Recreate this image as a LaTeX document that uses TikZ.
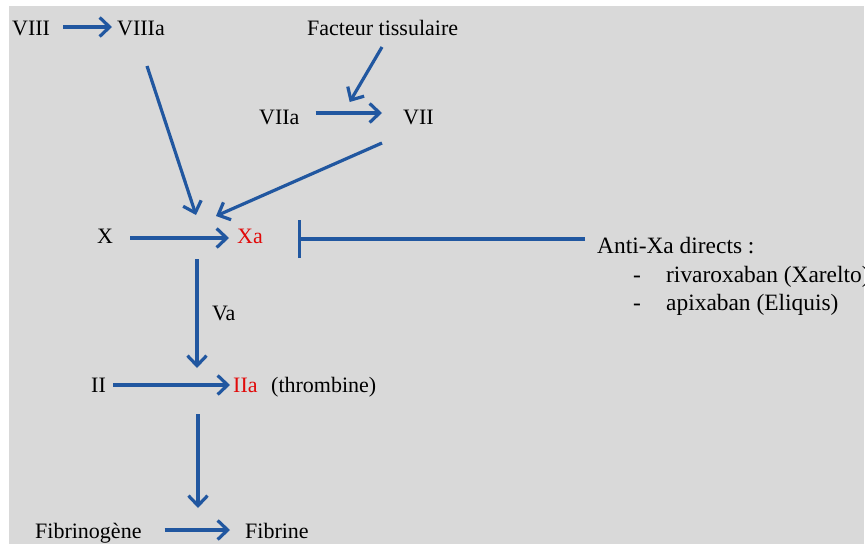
\documentclass[tikz,border=0pt]{standalone}
\usepackage{fontspec}
\setmainfont{Liberation Serif}
\usetikzlibrary{arrows.meta,calc}
\definecolor{flowblue}{RGB}{33,87,160}
\definecolor{activered}{RGB}{225,10,10}
\definecolor{panelgray}{RGB}{217,217,217}
\begin{document}
\begin{tikzpicture}[x=1pt,y=-1pt,
  font=\fontsize{22}{26}\selectfont,
  lbl/.style={anchor=base west, inner sep=0pt},
  active/.style={lbl, text=activered},
  drug/.style={lbl, font=\fontsize{23.4}{27}\selectfont},
  arr/.style={draw=flowblue, line width=3.2pt, -{Straight Barb[length=10pt,width=19pt]}},
  inhib/.style={draw=flowblue, line width=3.2pt, -{Bar[width=38pt]}}]
\useasboundingbox (0,0) rectangle (865,544);
\fill[panelgray] (9,6) rectangle (864,544);
\clip (0,0) rectangle (865,544);

% factors
\node[lbl] (VIII)  at (12,35)  {VIII};
\node[lbl] (VIIIa) at (117,35) {VIIIa};
\node[lbl] (FT)    at (307,35) {Facteur tissulaire};
\node[lbl] (VIIa)  at (259,124) {VIIa};
\node[lbl] (VII)   at (403,124) {VII};
\node[lbl] (X)     at (97,243)  {X};
\node[active] (Xa) at (237,243) {Xa};
\node[lbl] (Va)    at (212,320) {Va};
\node[lbl] (II)    at (91,392)  {II};
\node[active] (IIa) at (233,392) {IIa};
\node[lbl] (thr)   at (271,392) {(thrombine)};
\node[lbl] (fgn)   at (35,538)  {Fibrinogène};
\node[lbl] (fib)   at (245,538) {Fibrine};

% direct anti-Xa drugs
\node[drug] (anti)  at (597,253) {Anti-Xa directs :};
\node[drug] (dashA) at (633,282) {-};
\node[drug] (riva)  at (666,282) {rivaroxaban (Xarelto)};
\node[drug] (dashB) at (633,310) {-};
\node[drug] (apix)  at (666,310) {apixaban (Eliquis)};

% points where arrows meet other arrows
\coordinate (ftin) at ($(VIIa.base east)+(50,-22)$);
\coordinate (blk)  at ($(Xa.base west)+(61,-4)$);
\coordinate (fbin) at ($(fib.base west)+(-47,-30)$);

% cascade
\draw[arr] ($(VIII.base east)+(13,-8)$) -- ($(VIIIa.base west)+(-5,-8)$);
\draw[arr] ($(FT.base west)+(75,12)$) -- (ftin);
\draw[arr] ($(VIIa.base east)+(16,-11)$) -- ($(VII.base west)+(-21,-11)$);
\draw[arr] ($(VII.base west)+(-21,19)$) -- ($(Xa.base west)+(-21,-27)$);
\draw[arr] ($(VIIIa.base west)+(30,31)$) -- ($(Xa.base west)+(-41,-28)$);
\draw[arr] ($(X.base east)+(17,-5)$) -- ($(Xa.base west)+(-8,-5)$);
\draw[arr] ($(Xa.base west)+(-40,16)$) -- ($(IIa.base west)+(-36,-24)$);
\draw[arr] ($(II.base east)+(7,-7)$) -- ($(IIa.base west)+(-3,-7)$);
\draw[arr] ($(IIa.base west)+(-35,22)$) -- (fbin);
\draw[arr] ($(fgn.base east)+(23,-8)$) -- ($(fib.base west)+(-15,-8)$);

% inhibition of Xa
\draw[inhib] ($(anti.base west)+(-12,-14)$) -- (blk);
\end{tikzpicture}
\end{document}
